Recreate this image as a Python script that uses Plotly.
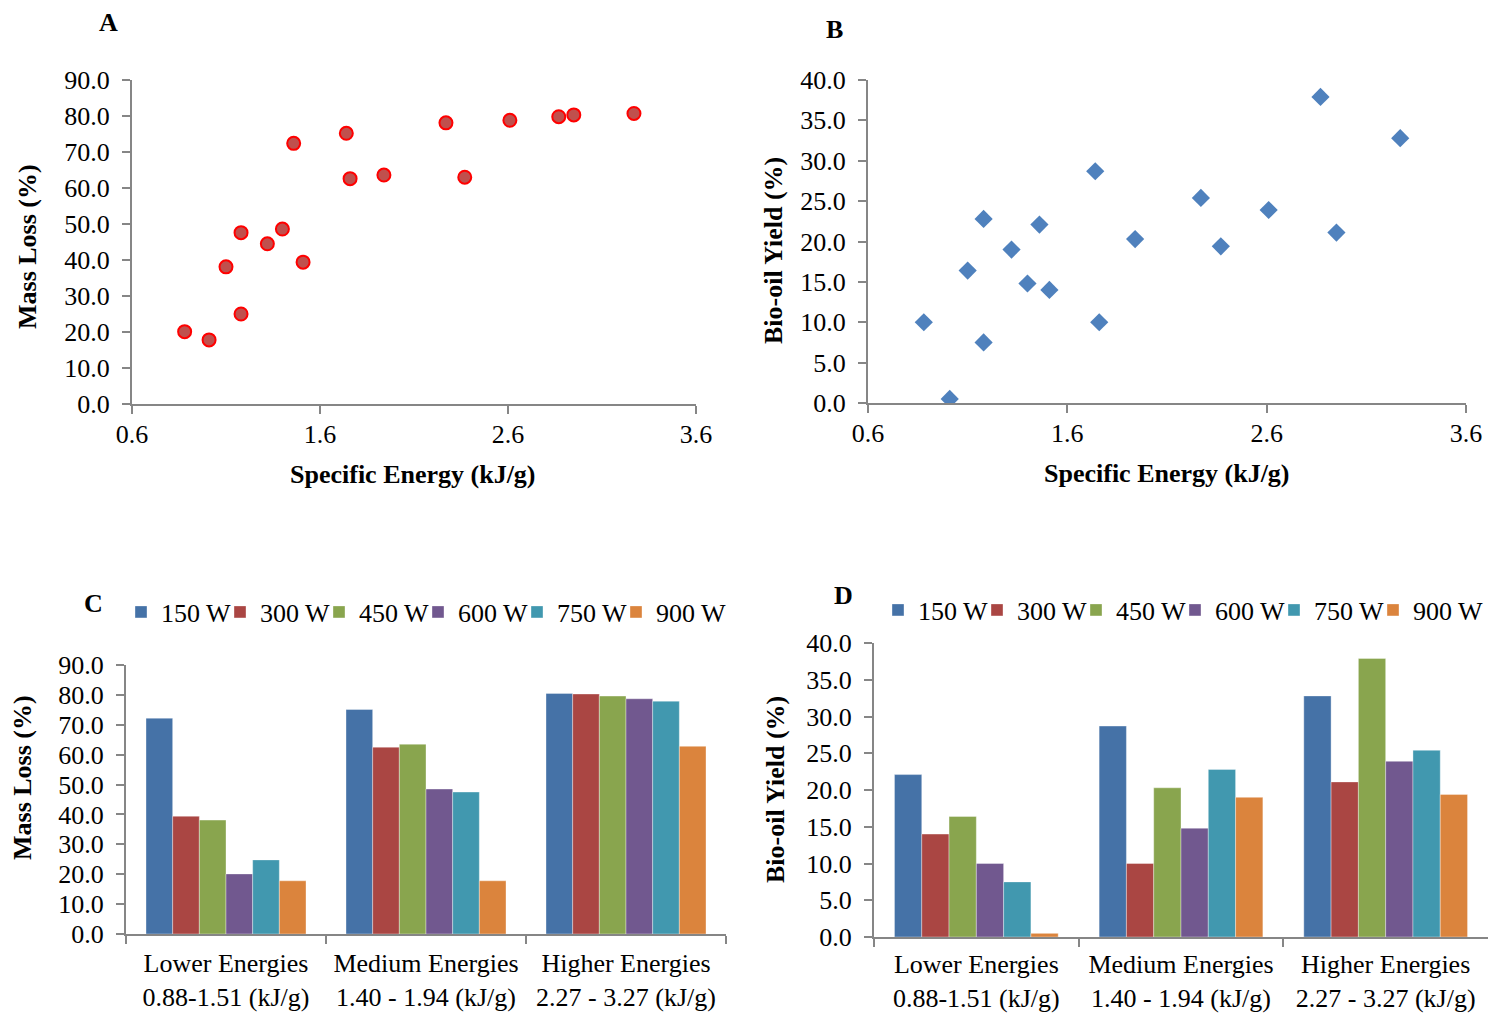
import plotly.graph_objects as go

# ---------------- data ----------------
specific_energy = [0.88, 1.01, 1.10, 1.18, 1.18, 1.32, 1.40, 1.46, 1.51,
                   1.74, 1.76, 1.94, 2.27, 2.37, 2.61, 2.87, 2.95, 3.27]
mass_loss_pts = [20.1, 17.8, 38.1, 25.0, 47.6, 44.5, 48.6, 72.4, 39.4,
                 75.2, 62.6, 63.6, 78.1, 63.0, 78.8, 79.8, 80.3, 80.7]
energy_B = [0.88, 1.01, 1.10, 1.18, 1.18, 1.32, 1.40, 1.46, 1.51,
            1.74, 1.76, 1.94, 2.27, 2.37, 2.61, 2.87, 2.95, 3.27]
bio_oil_pts = [10.0, 0.5, 16.4, 22.8, 7.5, 19.0, 14.8, 22.1, 14.0,
               28.7, 10.0, 20.3, 25.4, 19.4, 23.9, 37.9, 21.1, 32.8]

categories = ["Lower Energies<br>0.88-1.51 (kJ/g)",
              "Medium Energies<br>1.40 - 1.94 (kJ/g)",
              "Higher Energies<br>2.27 - 3.27 (kJ/g)"]
powers = ["150 W", "300 W", "450 W", "600 W", "750 W", "900 W"]

ml_150 = [72.2, 75.1, 80.5]
ml_300 = [39.4, 62.5, 80.3]
ml_450 = [38.1, 63.5, 79.6]
ml_600 = [20.1, 48.5, 78.7]
ml_750 = [24.8, 47.5, 77.9]
ml_900 = [17.8, 17.8, 62.8]

by_150 = [22.1, 28.7, 32.8]
by_300 = [14.0, 10.0, 21.1]
by_450 = [16.4, 20.3, 37.9]
by_600 = [10.0, 14.8, 23.9]
by_750 = [7.5, 22.8, 25.4]
by_900 = [0.5, 19.0, 19.4]

colors = ["#4572A7", "#AA4643", "#89A54E", "#71588F", "#4198AF", "#DB843D"]

# ---------------- layout helpers ----------------
W, H = 1489, 1013
FONT = "Liberation Serif"
AX = "#868686"


def px(x):
    return x / W


def py(y):
    return 1 - y / H


fig = go.Figure()

# Panel A
fig.add_trace(go.Scatter(
    x=specific_energy, y=mass_loss_pts, mode="markers",
    marker=dict(symbol="circle", size=13, color="#C0504D",
                line=dict(color="#FF0000", width=2)),
    xaxis="x", yaxis="y", showlegend=False))

# Panel B
fig.add_trace(go.Scatter(
    x=energy_B, y=bio_oil_pts, mode="markers",
    marker=dict(symbol="diamond", size=14, color="#4F81BD",
                line=dict(width=0)),
    xaxis="x2", yaxis="y2", showlegend=False))

# Panel C
for i, (name, vals, c) in enumerate(zip(powers, [ml_150, ml_300, ml_450, ml_600, ml_750, ml_900], colors)):
    fig.add_trace(go.Bar(x=categories, y=vals, name=name,
                         marker=dict(color=c, line=dict(color="rgba(255,255,255,0.6)", width=0.6)),
                         xaxis="x3", yaxis="y3", legend="legend",
                         legendwidth=(80 if i == len(powers) - 1 else None)))

# Panel D
for i, (name, vals, c) in enumerate(zip(powers, [by_150, by_300, by_450, by_600, by_750, by_900], colors)):
    fig.add_trace(go.Bar(x=categories, y=vals, name=name,
                         marker=dict(color=c, line=dict(color="rgba(255,255,255,0.6)", width=0.6)),
                         xaxis="x4", yaxis="y4", legend="legend2",
                         legendwidth=(80 if i == len(powers) - 1 else None)))

tickfont = dict(family=FONT, size=26, color="black")

common = dict(showline=True, linecolor=AX, linewidth=2, ticks="outside",
              ticklen=8, tickwidth=2, tickcolor=AX, showgrid=False,
              zeroline=False, tickfont=tickfont)

xA = dict(common, domain=[px(132), px(696)], range=[0.6, 3.6], tick0=0.6, dtick=1,
          tickformat=".1f", anchor="y", ticklabelstandoff=-2)
yA = dict(common, domain=[py(404), py(80)], range=[0, 90], dtick=10,
          tickformat=".1f", anchor="x", ticklabelstandoff=7)
xB = dict(common, domain=[px(868), px(1466)], range=[0.6, 3.6], tick0=0.6, dtick=1,
          tickformat=".1f", anchor="y2", ticklabelstandoff=-2)
yB = dict(common, domain=[py(403), py(80)], range=[0, 40], dtick=5,
          tickformat=".1f", anchor="x2", ticklabelstandoff=7)
xC = dict(common, domain=[px(126), px(726)], type="category", tickson="boundaries",
          anchor="y3", ticklabelstandoff=5)
yC = dict(common, domain=[py(934), py(665)], range=[0, 90], dtick=10,
          tickformat=".1f", anchor="x3", ticklabelstandoff=7)
xD = dict(common, domain=[px(874), px(1488)], type="category", tickson="boundaries",
          anchor="y4", ticklabelstandoff=3)
yD = dict(common, domain=[py(937), py(643)], range=[0, 40], dtick=5,
          tickformat=".1f", anchor="x4", ticklabelstandoff=7)

legend_common = dict(orientation="h", font=tickfont, bgcolor="rgba(0,0,0,0)",
                     entrywidth=54, entrywidthmode="pixels", itemwidth=30,
                     xanchor="left", yanchor="middle", traceorder="normal")

fig.update_layout(
    width=W, height=H,
    margin=dict(l=0, r=0, t=0, b=0, autoexpand=False),
    paper_bgcolor="white", plot_bgcolor="white",
    font=dict(family=FONT, size=26, color="black"),
    barmode="group", bargap=0.2, bargroupgap=0,
    xaxis=xA, yaxis=yA, xaxis2=xB, yaxis2=yB,
    xaxis3=xC, yaxis3=yC, xaxis4=xD, yaxis4=yD,
    legend=dict(legend_common, x=px(121), y=py(612)),
    legend2=dict(legend_common, x=px(878), y=py(610)),
)

ann = []


def add_text(text, x, y, angle=0):
    ann.append(dict(text=text, x=px(x), y=py(y), xref="paper", yref="paper",
                    showarrow=False, textangle=angle, xanchor="center",
                    yanchor="middle", font=dict(family=FONT, size=26, color="black")))


add_text("<b>A</b>", 108, 23)
add_text("<b>B</b>", 834, 30)
add_text("<b>C</b>", 93, 603)
add_text("<b>D</b>", 843, 595)
add_text("<b>Specific Energy (kJ/g)</b>", 413, 474)
add_text("<b>Specific Energy (kJ/g)</b>", 1167, 473)
add_text("<b>Mass Loss (%)</b>", 27, 247, -90)
add_text("<b>Bio-oil Yield (%)</b>", 774, 251, -90)
add_text("<b>Mass Loss (%)</b>", 22, 778, -90)
add_text("<b>Bio-oil Yield (%)</b>", 775, 790, -90)

fig.update_layout(annotations=ann)

fig.write_html("out.html", config={"displayModeBar": False},
               post_script="document.body.style.margin='0px';")
